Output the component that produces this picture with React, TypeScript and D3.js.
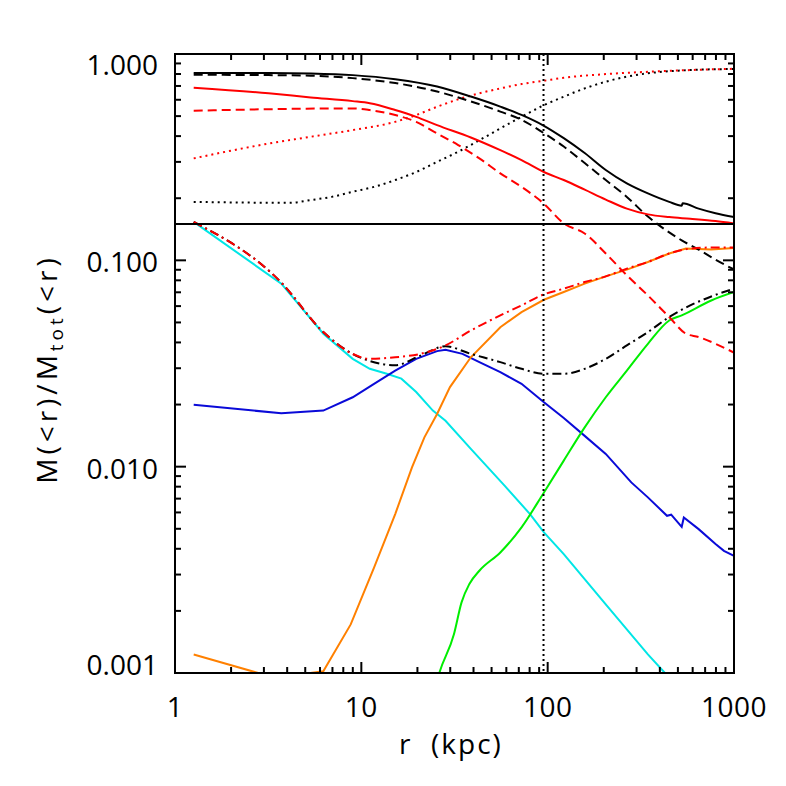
import React, { useEffect, useRef } from "react";
import * as d3 from "d3";

// radius (kpc), enclosed mass fraction
const blackSolid = [
  [1.26, 0.808], [3.18, 0.81], [5.35, 0.805], [8.99, 0.79], [15.2, 0.755], [25.5, 0.696],
  [38.7, 0.622], [55.7, 0.556], [72.4, 0.507], [95.5, 0.449], [122, 0.391], [158, 0.331],
  [205, 0.274], [266, 0.236], [345, 0.211], [449, 0.192], [524, 0.184], [530, 0.189],
  [646, 0.178], [796, 0.169], [1000, 0.162],
];
const blackDashed = [
  [1.26, 0.793], [3.18, 0.79], [5.35, 0.785], [8.99, 0.764], [15.2, 0.723], [25.5, 0.658],
  [38.7, 0.589], [55.7, 0.526], [72.4, 0.48], [95.5, 0.413], [122, 0.356], [158, 0.296],
  [205, 0.245], [266, 0.203], [345, 0.163], [384, 0.151], [524, 0.125], [646, 0.1127],
  [796, 0.1007], [1000, 0.0903],
];
const blackDotted = [
  [1.26, 0.192], [4.12, 0.19], [5.35, 0.196], [6.93, 0.203], [8.99, 0.215], [11.7, 0.227],
  [15.2, 0.245], [19.7, 0.268], [25.5, 0.3], [33.1, 0.336], [43.0, 0.382], [55.7, 0.436],
  [72.4, 0.496], [95.5, 0.565], [122, 0.621], [158, 0.681], [205, 0.734], [266, 0.777],
  [345, 0.806], [582, 0.836], [1000, 0.846],
];
const redSolid = [
  [1.26, 0.686], [3.18, 0.645], [5.35, 0.616], [8.99, 0.591], [11.1, 0.577], [15.2, 0.535],
  [19.7, 0.496], [25.5, 0.452], [38.7, 0.394], [55.7, 0.342], [72.4, 0.306], [95.5, 0.268],
  [122, 0.245], [158, 0.22], [205, 0.197], [266, 0.178], [345, 0.167], [449, 0.162],
  [582, 0.159], [796, 0.155], [1000, 0.151],
];
const redDashed = [
  [1.26, 0.531], [8.99, 0.545], [11.1, 0.535], [15.2, 0.506], [19.7, 0.469], [25.5, 0.412],
  [33.1, 0.362], [43.0, 0.312], [55.7, 0.264], [72.4, 0.227], [95.5, 0.188], [122, 0.151],
  [158, 0.135], [205, 0.108], [266, 0.0846], [345, 0.0676], [449, 0.0531], [552, 0.0441],
  [646, 0.0425], [796, 0.0394], [1000, 0.0357],
];
const redDotted = [
  [1.26, 0.312], [3.18, 0.368], [5.35, 0.397], [8.99, 0.428], [15.2, 0.469], [19.7, 0.506],
  [25.5, 0.555], [33.1, 0.603], [43.0, 0.645], [55.7, 0.681], [72.4, 0.715], [95.5, 0.742],
  [122, 0.767], [205, 0.799], [345, 0.82], [582, 0.836], [1000, 0.848],
];
const cyanGas = [
  [1.26, 0.1535], [3.72, 0.0771], [6.25, 0.0441], [8.99, 0.0333], [11.1, 0.0298],
  [13.7, 0.0282], [16.4, 0.0267], [19.7, 0.023], [24.2, 0.0187], [28.3, 0.0167],
  [38.7, 0.0122], [58.7, 0.00809], [80.4, 0.00589], [95.5, 0.0048], [122, 0.00377],
  [205, 0.00215], [345, 0.00123], [426, 0.001], [460, 0.00092],
];
const blueGas = [
  [1.26, 0.01994], [3.72, 0.01815], [6.25, 0.0187], [8.99, 0.0217], [11.7, 0.0252],
  [15.2, 0.0292], [19.7, 0.0333], [25.5, 0.0363], [28.3, 0.0369], [34.9, 0.0352],
  [43.0, 0.0321], [55.7, 0.0287], [72.4, 0.0252], [95.5, 0.0205], [122, 0.0172],
  [158, 0.0141], [205, 0.01153], [281, 0.00839], [345, 0.0071], [437, 0.00578],
  [460, 0.00585], [524, 0.00511], [538, 0.00567], [646, 0.00498], [796, 0.00422],
  [883, 0.00391], [1000, 0.0037],
];
const greenGas = [
  [25.5, 0.00092], [26.2, 0.001], [31.4, 0.00154], [34.5, 0.0022], [38.0, 0.0027],
  [43.0, 0.00313], [55.7, 0.00384], [72.4, 0.00508], [95.5, 0.0075], [122, 0.0107],
  [158, 0.0155], [205, 0.0217], [266, 0.0292], [345, 0.0394], [449, 0.0511],
  [524, 0.0541], [755, 0.0639], [1000, 0.0702],
];
const orangeGas = [
  [1.26, 0.00123], [2.79, 0.001], [4.0, 0.0008], [5.35, 0.001], [6.25, 0.00102],
  [8.77, 0.00172], [11.7, 0.00324], [15.2, 0.00589], [18.7, 0.00993], [21.8, 0.01387],
  [25.5, 0.018], [29.9, 0.0243], [38.7, 0.0339], [55.7, 0.0474], [72.4, 0.0561],
  [95.5, 0.0644], [122, 0.0702], [158, 0.0771], [205, 0.0836], [266, 0.0901],
  [345, 0.0982], [449, 0.1079], [552, 0.114], [755, 0.113], [1000, 0.1148],
];
const blackDashDot = [
  [1.26, 0.1535], [3.72, 0.078], [6.25, 0.0449], [8.99, 0.0352], [11.1, 0.0325],
  [15.2, 0.031], [20.7, 0.0345], [28.3, 0.0383], [38.7, 0.0352], [55.7, 0.0321],
  [72.4, 0.0298], [95.5, 0.0282], [122, 0.0282], [158, 0.0298], [205, 0.0333],
  [266, 0.0387], [345, 0.0449], [449, 0.0531], [582, 0.0605], [755, 0.0668], [1000, 0.0729],
];
const redDashDot = [
  [1.26, 0.1535], [3.72, 0.078], [6.25, 0.0449], [8.99, 0.0352], [11.1, 0.0333],
  [15.2, 0.0339], [20.7, 0.0352], [28.3, 0.0387], [38.7, 0.0457], [55.7, 0.0541],
  [72.4, 0.0605], [95.5, 0.0684], [122, 0.0729], [158, 0.0785], [205, 0.0836],
  [266, 0.0912], [345, 0.0982], [449, 0.1079], [582, 0.114], [755, 0.1153], [1000, 0.1153],
];

const xTickValues = [1, 10, 100, 1000];
const xTickLabels = ["1", "10", "100", "1000"];
const yTickValues = [0.001, 0.01, 0.1, 1];
const yTickLabels = ["0.001", "0.010", "0.100", "1.000"];
const baryonFraction = 0.15;
const virialRadius = 95;

const App = () => {
  const ref = useRef<SVGSVGElement>(null);

  useEffect(() => {
    const svg = d3.select(ref.current);
    svg.selectAll("*").remove();

    const left = 175, right = 734, top = 54, bottom = 673;
    const font = "'Open Sans', sans-serif";

    const x = d3.scaleLog().domain([1, 1000]).range([left, right]);
    const y = d3.scaleLog().domain([0.001, 1]).range([bottom, top]);

    svg.append("defs").append("clipPath").attr("id", "plotArea")
      .append("rect")
      .attr("x", left).attr("y", top)
      .attr("width", right - left).attr("height", bottom - top);

    const straight = d3.line<number[]>()
      .x(d => x(d[0]))
      .y(d => y(d[1]));
    const smooth = d3.line<number[]>()
      .x(d => x(d[0]))
      .y(d => y(d[1]))
      .curve(d3.curveMonotoneX);

    const series = [
      { data: cyanGas, color: "#00e6e6", dash: null, line: straight },
      { data: blueGas, color: "#0a0ad8", dash: null, line: straight },
      { data: greenGas, color: "#00ee00", dash: null, line: smooth },
      { data: orangeGas, color: "#ff8000", dash: null, line: straight },
      { data: blackDotted, color: "#000", dash: "2,4", line: smooth },
      { data: redDotted, color: "#ff0000", dash: "2,4", line: smooth },
      { data: blackSolid, color: "#000", dash: null, line: smooth },
      { data: blackDashed, color: "#000", dash: "9,5", line: smooth },
      { data: redSolid, color: "#ff0000", dash: null, line: smooth },
      { data: redDashed, color: "#ff0000", dash: "9,5", line: smooth },
      { data: blackDashDot, color: "#000", dash: "9,4,2,4", line: smooth },
      { data: redDashDot, color: "#ff0000", dash: "9,4,2,4", line: smooth },
    ];

    const g = svg.append("g").attr("clip-path", "url(#plotArea)");

    series.forEach(s => {
      g.append("path")
        .datum(s.data)
        .attr("d", s.line)
        .attr("fill", "none")
        .attr("stroke", s.color)
        .attr("stroke-width", 2)
        .attr("stroke-dasharray", s.dash);
    });

    // cosmic baryon fraction
    g.append("line")
      .attr("x1", left).attr("x2", right)
      .attr("y1", y(baryonFraction)).attr("y2", y(baryonFraction))
      .attr("stroke", "#000").attr("stroke-width", 2);

    // virial radius
    g.append("line")
      .attr("x1", x(virialRadius)).attr("x2", x(virialRadius))
      .attr("y1", top).attr("y2", bottom)
      .attr("stroke", "#000").attr("stroke-width", 2)
      .attr("stroke-dasharray", "2,3");

    // frame
    svg.append("rect")
      .attr("x", left).attr("y", top)
      .attr("width", right - left).attr("height", bottom - top)
      .attr("fill", "none").attr("stroke", "#000").attr("stroke-width", 2);

    // minor + major ticks on all sides
    const xTicks: number[] = [];
    [1, 10, 100].forEach(d => d3.range(1, 10).forEach(k => xTicks.push(k * d)));
    xTicks.push(1000);
    const yTicks: number[] = [];
    [0.001, 0.01, 0.1].forEach(d => d3.range(1, 10).forEach(k => yTicks.push(k * d)));
    yTicks.push(1);

    const isMajor = (v: number) => Math.abs(Math.log10(v) - Math.round(Math.log10(v))) < 1e-6;
    const ticks = svg.append("g").attr("stroke", "#000").attr("stroke-width", 2);

    xTicks.forEach(v => {
      const len = isMajor(v) ? 11 : 6;
      const px = x(v);
      ticks.append("line").attr("x1", px).attr("x2", px).attr("y1", bottom).attr("y2", bottom - len);
      ticks.append("line").attr("x1", px).attr("x2", px).attr("y1", top).attr("y2", top + len);
    });
    yTicks.forEach(v => {
      const len = isMajor(v) ? 11 : 6;
      const py = y(v);
      ticks.append("line").attr("x1", left).attr("x2", left + len).attr("y1", py).attr("y2", py);
      ticks.append("line").attr("x1", right).attr("x2", right - len).attr("y1", py).attr("y2", py);
    });

    // tick labels
    svg.append("g").selectAll("text")
      .data(xTickValues)
      .enter().append("text")
      .attr("x", d => x(d))
      .attr("y", 717)
      .attr("text-anchor", "middle")
      .attr("font-family", font)
      .attr("font-size", 28)
      .attr("letter-spacing", 0.5)
      .text((d, i) => xTickLabels[i]);

    svg.append("g").selectAll("text")
      .data(yTickValues)
      .enter().append("text")
      .attr("x", 158)
      .attr("y", d => Math.min(Math.max(y(d) + 2, top + 11), bottom - 8))
      .attr("dy", "0.36em")
      .attr("text-anchor", "end")
      .attr("font-family", font)
      .attr("font-size", 28)
      .text((d, i) => yTickLabels[i]);

    // axis titles
    svg.append("text")
      .attr("x", 451)
      .attr("y", 754)
      .attr("text-anchor", "middle")
      .attr("font-family", font)
      .attr("font-size", 28)
      .attr("letter-spacing", 2)
      .attr("xml:space", "preserve")
      .text("r  (kpc)");

    const yt = svg.append("text")
      .attr("transform", "translate(57,369) rotate(-90)")
      .attr("text-anchor", "middle")
      .attr("font-family", font)
      .attr("font-size", 28)
      .attr("letter-spacing", 4);
    yt.append("tspan").text("M(<r)/M");
    yt.append("tspan").attr("font-size", 19).attr("dy", 6).text("tot");
    yt.append("tspan").attr("dy", -6).text("(<r)");
  }, []);

  return (
    <svg
      ref={ref}
      width={786}
      height={786}
      style={{ position: "absolute", left: 0, top: 0, background: "#fff" }}
    ></svg>
  );
};

export default App;
